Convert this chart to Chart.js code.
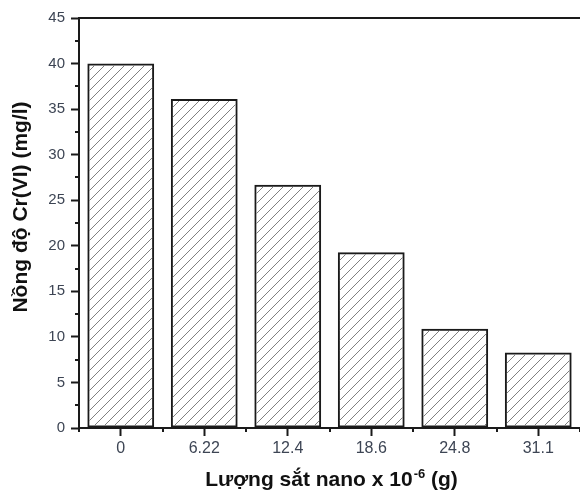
<!DOCTYPE html>
<html lang="vi">
<head>
<meta charset="UTF-8">
<title>Nồng độ Cr(VI)</title>
<script src="https://cdn.jsdelivr.net/npm/chart.js@4.4.4/dist/chart.umd.js"></script>
<style>
  body { margin: 0; background: #fff; }
</style>
</head>
<body>
<canvas id="myChart" width="580" height="494"></canvas>
<script>
// lượng sắt nano (x 10^-6 g) và nồng độ Cr(VI) còn lại
const categories = ['0', '6.22', '12.4', '18.6', '24.8', '31.1'];
const concentration = [40, 36.1, 26.7, 19.3, 10.9, 8.3];
const yMin = 0, yMax = 45, yStep = 5;

const yTitle = 'Nồng độ Cr(VI) (mg/l)';
const xTitleMain = 'Lượng sắt nano x 10';
const xTitleSup = '-6';
const xTitleTail = ' (g)';

const ink = '#1a1a1a';
const labelColor = '#3d4554';

// vạch chéo cho cột
function hatch() {
  const c = document.createElement('canvas');
  c.width = 10; c.height = 10;
  const g = c.getContext('2d');
  g.strokeStyle = '#808080';
  g.lineWidth = 1;
  g.beginPath();
  g.moveTo(0, 10); g.lineTo(10, 0);
  g.moveTo(-2, 2); g.lineTo(2, -2);
  g.moveTo(8, 12); g.lineTo(12, 8);
  g.stroke();
  return g.createPattern(c, 'repeat');
}

// khung trên, vạch phụ, tiêu đề trục
const extras = {
  id: 'extras',
  afterDraw(chart) {
    const { ctx, chartArea: a, scales: { x, y } } = chart;
    ctx.save();
    ctx.strokeStyle = ink;
    ctx.lineWidth = 2;
    ctx.beginPath();
    ctx.moveTo(a.left - 1, a.top);
    ctx.lineTo(a.right, a.top);
    for (let v = yMin + yStep / 2; v < yMax; v += yStep) {
      const py = Math.round(y.getPixelForValue(v));
      ctx.moveTo(a.left - 4, py);
      ctx.lineTo(a.left, py);
    }
    for (let i = 0; i <= categories.length; i++) {
      const px = Math.round(x.getPixelForValue(i - 0.5));
      ctx.moveTo(px, a.bottom);
      ctx.lineTo(px, a.bottom + 4);
    }
    ctx.stroke();

    ctx.fillStyle = '#111';
    ctx.font = 'bold 21px "Liberation Sans", Arial, sans-serif';
    ctx.textAlign = 'center';
    ctx.textBaseline = 'middle';
    ctx.save();
    ctx.translate(21, 207);
    ctx.rotate(-Math.PI / 2);
    ctx.fillText(yTitle, 0, 0);
    ctx.restore();

    ctx.textAlign = 'left';
    ctx.textBaseline = 'alphabetic';
    const big = 'bold 21px "Liberation Sans", Arial, sans-serif';
    const small = 'bold 13px "Liberation Sans", Arial, sans-serif';
    ctx.font = big;
    const w1 = ctx.measureText(xTitleMain).width;
    const w3 = ctx.measureText(xTitleTail).width;
    ctx.font = small;
    const w2 = ctx.measureText(xTitleSup).width;
    let sx = 331 - (w1 + w2 + w3) / 2;
    const base = 486;
    ctx.font = big;
    ctx.fillText(xTitleMain, sx, base);
    ctx.font = small;
    ctx.fillText(xTitleSup, sx + w1 + 1, base - 8);
    ctx.font = big;
    ctx.fillText(xTitleTail, sx + w1 + w2 + 1, base);
    ctx.restore();
  }
};

const ctx = document.getElementById('myChart').getContext('2d');
const myChart = new Chart(ctx, {
  type: 'bar',
  data: {
    labels: categories,
    datasets: [{
      data: concentration,
      backgroundColor: hatch(),
      borderColor: ink,
      borderWidth: 2,
      borderSkipped: false,
      barPercentage: 0.8,
      categoryPercentage: 1.0
    }]
  },
  options: {
    responsive: false,
    animation: false,
    layout: { padding: { left: 0, top: 18, right: 0, bottom: 0 } },
    plugins: { legend: { display: false }, tooltip: { enabled: false } },
    scales: {
      x: {
        grid: { offset: false, drawOnChartArea: false, drawTicks: true, tickLength: 8, tickColor: ink, tickWidth: 2 },
        border: { color: ink, width: 2 },
        ticks: { color: labelColor, font: { family: '"Liberation Sans", Arial, sans-serif', size: 16 }, padding: 3, maxRotation: 0 },
        afterFit: (s) => { s.height = 66; }
      },
      y: {
        min: yMin,
        max: yMax,
        grid: { drawOnChartArea: false, drawTicks: true, tickLength: 8, tickColor: ink, tickWidth: 2 },
        border: { color: ink, width: 2 },
        ticks: { stepSize: yStep, color: labelColor, font: { family: '"Liberation Sans", Arial, sans-serif', size: 15 }, padding: 6 },
        afterFit: (s) => { s.width = 79; }
      }
    }
  },
  plugins: [extras]
});
</script>
</body>
</html>
